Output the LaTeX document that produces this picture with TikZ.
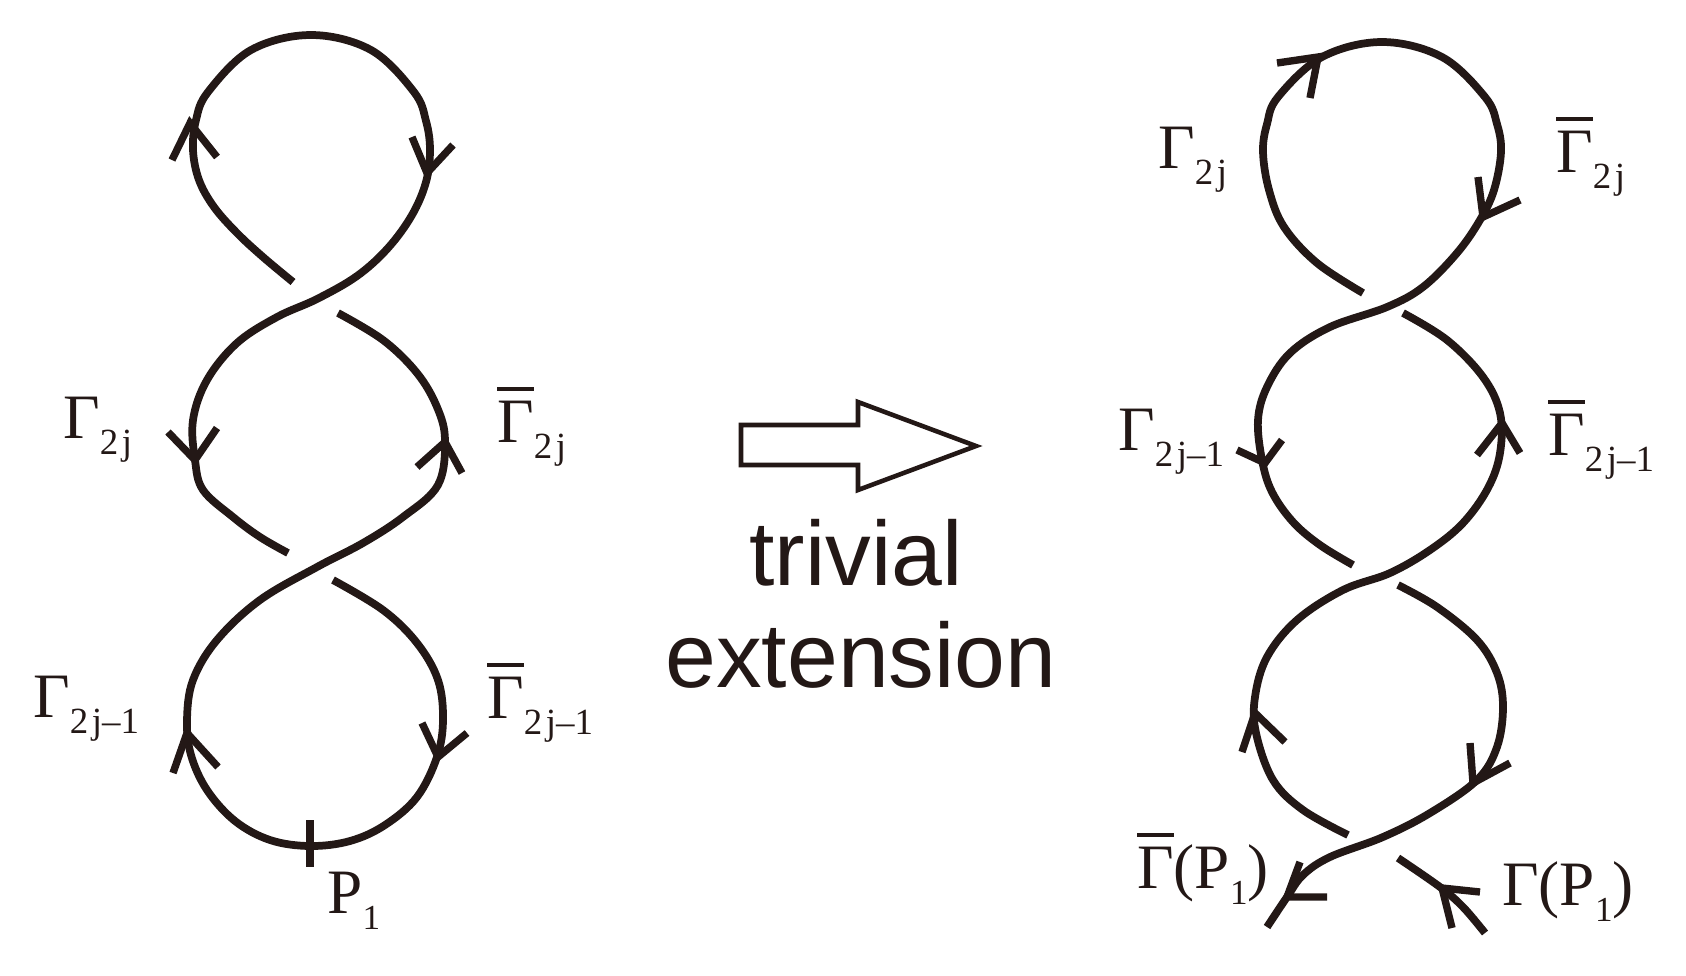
\documentclass[tikz,border=0pt]{standalone}
\usepackage{fontspec}
\setmainfont{Liberation Serif}
\newfontfamily\sansf{Liberation Sans}
\definecolor{ink}{RGB}{35,24,22}
\newcommand\GBar{\vbox{\hrule height 2.1pt\kern 5.5pt\hbox{Γ}}}
\newcommand\Sb[1]{\raisebox{-9.6pt}{\fontsize{21}{21}\selectfont #1}}
\newcommand\Ps[1]{\raisebox{-9.6pt}{\fontsize{20}{20}\selectfont #1}}
\begin{document}
\begin{tikzpicture}[x=0.02cm,y=-0.02cm,
 knot/.style={line width=4.4pt,draw=ink,line cap=butt,line join=round},
 chev/.style={line width=4.2pt,draw=ink,line cap=butt,line join=miter},
 lab/.style={inner sep=0pt,anchor=base west,text=ink,font=\fontsize{36}{40}\selectfont},
 big/.style={inner sep=0pt,anchor=base,text=ink,font=\sansf\fontsize{52}{56}\selectfont}]
\useasboundingbox[fill=white] (0,0) rectangle (1686,975);

% ---------------- left figure ----------------
\draw[knot] plot[smooth,tension=0.6] coordinates {(293,282) (263,257) (237,233) (214,207) (199,180) (193,150) (196,120) (208,92) (251,50) (311,35) (371,50) (414,92) (426,121) (430,150) (426,182) (412,215) (388,248) (357,276) (317,299) (277,317) (237,343) (207,380) (193,420) (195,460) (203,490) (233,517) (260,537) (288,553)};
\draw[knot] plot[smooth,tension=0.6] coordinates {(338,313) (383,340) (417,373) (437,407) (445,440) (438,485) (403,517) (363,543) (317,567) (260,600) (217,640) (193,680) (187,720) (191,755) (207,790) (235,821) (270,840) (310,846) (350,841) (385,825) (417,797) (437,757) (443,720) (438,680) (417,643) (383,610) (333,580)};
\draw[chev] (172,160) -- (190,123) -- (217,157);
\draw[chev] (412,137) -- (427,173) -- (453,145);
\draw[chev] (168,432) -- (195,460) -- (217,428);
\draw[chev] (417,467) -- (445,442) -- (462,473);
\draw[chev] (422,723) -- (438,757) -- (467,733);
\draw[chev] (173,773) -- (187,733) -- (218,767);
\draw[knot] (310,820) -- (310,867);

\node[lab] (l1) at (63,438) {Γ\Sb{2\kern2pt j}};
\node[lab] (l2) at (33,717) {Γ\Sb{2\kern2pt j–1}};
\node[lab] (l3) at (497,442) {\GBar\Sb{2\kern2pt j}};
\node[lab] (l4) at (487,718) {\GBar\Sb{2\kern2pt j–1}};
\node[lab] (p1) at (327,913) {P\Ps{1}};

% ---------------- middle ----------------
\draw[line width=2.6pt,draw=ink,line join=miter] (741,425) -- (858,425) -- (858,402) -- (976,446) -- (858,490) -- (858,465) -- (741,465) -- cycle;
\node[big] (t1) at (856,585) {trivial};
\node[big] (t2) at (861,687) {extension};

% ---------------- right figure ----------------
\draw[knot] plot[smooth,tension=0.6] coordinates {(1363,293) (1317,263) (1284,227) (1269,190) (1263,152) (1267,124) (1278,97) (1322,57) (1382,42) (1442,57) (1485,97) (1497,124) (1501,152) (1494,190) (1480,220) (1457,253) (1423,287) (1387,307) (1330,327) (1290,353) (1267,387) (1258,420) (1262,460) (1272,492) (1293,522) (1320,545) (1353,565)};
\draw[knot] plot[smooth,tension=0.6] coordinates {(1403,313) (1447,340) (1483,377) (1500,413) (1500,453) (1488,488) (1463,523) (1430,550) (1390,573) (1343,590) (1297,620) (1267,657) (1255,697) (1256,733) (1273,780) (1303,810) (1348,835)};
\draw[knot] plot[smooth,tension=0.6] coordinates {(1398,585) (1437,607) (1477,640) (1497,673) (1503,707) (1497,747) (1477,780) (1430,813) (1383,837) (1330,857) (1303,875) (1287,897) (1267,927)};
\draw[knot] plot[smooth,tension=0.6] coordinates {(1398,858) (1440,887) (1463,907) (1485,933)};
\draw[chev] (1277,63) -- (1318,57) -- (1310,98);
\draw[chev] (1478,177) -- (1483,217) -- (1520,200);
\draw[chev] (1237,450) -- (1265,463) -- (1282,440);
\draw[chev] (1477,455) -- (1502,423) -- (1520,453);
\draw[chev] (1242,752) -- (1255,713) -- (1285,742);
\draw[chev] (1470,743) -- (1473,783) -- (1510,763);
\draw[chev] (1300,862) -- (1287,897) -- (1327,897);
\draw[chev] (1480,892) -- (1442,888) -- (1452,928);

\node[lab] (r1) at (1158,168) {Γ\Sb{2\kern2pt j}};
\node[lab] (r2) at (1556,172) {\GBar\Sb{2\kern2pt j}};
\node[lab] (r3) at (1118,450) {Γ\Sb{2\kern2pt j–1}};
\node[lab] (r4) at (1548,455) {\GBar\Sb{2\kern2pt j–1}};
\node[lab] (r5) at (1137,888) {\GBar(P\Ps{1})};
\node[lab] (r6) at (1502,905) {Γ(P\Ps{1})};
\end{tikzpicture}
\end{document}
